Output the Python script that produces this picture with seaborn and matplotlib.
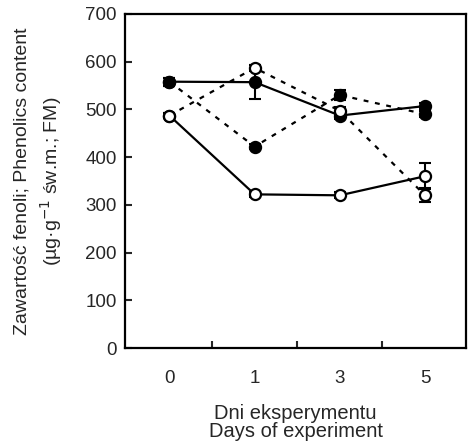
import numpy as np
import pandas as pd
import matplotlib
matplotlib.use("Agg")
import matplotlib.pyplot as plt
import seaborn as sns

days = ["0", "1", "3", "5"]

# filled circles, solid line
filled_solid = [558, 557, 487, 507]
filled_solid_err = [8, 35, 8, 6]
# open circles, solid line
open_solid = [487, 322, 320, 360]
open_solid_err = [6, 5, 6, 27]
# filled circles, dashed line
filled_dash = [558, 422, 530, 490]
filled_dash_err = [8, 5, 10, 6]
# open circles, dashed line
open_dash = [487, 587, 497, 320]
open_dash_err = [6, 6, 8, 15]

sns.set_style("ticks")
plt.rcParams["font.family"] = ["Liberation Sans", "DejaVu Sans"]

fig = plt.figure(figsize=(4.74, 4.48), dpi=100)
ax = fig.add_axes([0.264, 0.223, 0.719, 0.746])

x = np.arange(len(days))
series = [
    (filled_solid, filled_solid_err, "-", "black"),
    (open_solid, open_solid_err, "-", "white"),
    (filled_dash, filled_dash_err, (0, (2.2, 3)), "black"),
    (open_dash, open_dash_err, (0, (2.2, 3)), "white"),
]

for vals, err, ls, face in series:
    df = pd.DataFrame({"day": x, "value": vals})
    ax.errorbar(x, vals, yerr=err, fmt="none", ecolor="black",
                elinewidth=1.5, capsize=4, capthick=1.5, zorder=2)
    sns.lineplot(data=df, x="day", y="value", ax=ax, color="black",
                 linestyle=ls, linewidth=1.6, marker="o", markersize=8,
                 markerfacecolor=face, markeredgecolor="black",
                 markeredgewidth=1.6, zorder=3)

ax.set_xlim(-0.52, 3.48)
ax.set_ylim(0, 700)
ax.set_yticks(range(0, 701, 100))
ax.set_xticks(x)
ax.set_xticklabels(days)
ax.set_xticks([0.5, 1.5, 2.5], minor=True)

for s in ax.spines.values():
    s.set_linewidth(1.6)
    s.set_color("black")

ax.tick_params(axis="y", direction="in", length=5, width=1.5, labelsize=13.5, pad=6)
ax.tick_params(axis="x", which="major", length=0, labelsize=13.5, pad=16)
ax.tick_params(axis="x", which="minor", direction="in", length=5, width=1.5)

ax.set_xlabel("Dni eksperymentu\nDays of experiment", fontsize=14.5, labelpad=12,
              linespacing=0.95)
ax.set_ylabel("Zawartość fenoli; Phenolics content\n(µg·g$^{-1}$ św.m.; FM)",
              fontsize=14, labelpad=15, linespacing=1.4)

fig.savefig("out.png", dpi=100)
